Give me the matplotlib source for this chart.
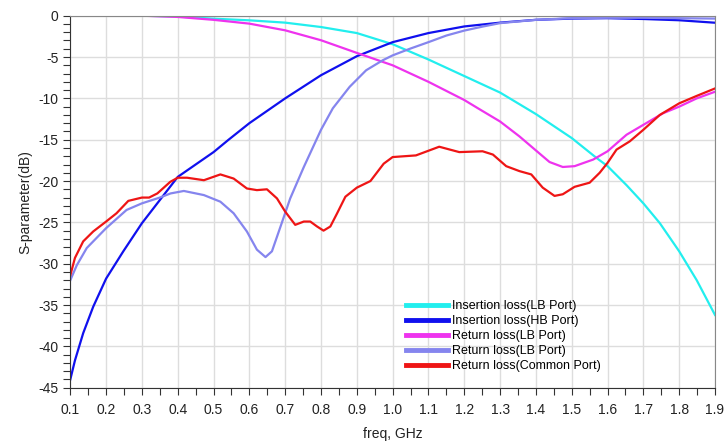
import matplotlib
matplotlib.use("Agg")
import matplotlib.pyplot as plt
from matplotlib.ticker import MultipleLocator
import numpy as np

plt.rcParams['font.family'] = ['Liberation Sans', 'DejaVu Sans']

# Insertion loss (LB Port)
f_il_lb = [0.1, 0.2, 0.3, 0.4, 0.5, 0.6, 0.7, 0.8, 0.9, 1.0, 1.1, 1.2, 1.3, 1.4,
           1.5, 1.569, 1.6, 1.653, 1.7, 1.746, 1.8, 1.849, 1.9]
s_il_lb = [0.0, 0.0, 0.0, -0.1, -0.36, -0.56, -0.84, -1.37, -2.1, -3.45, -5.3, -7.3, -9.3, -11.9,
           -14.8, -17.2, -18.2, -20.5, -22.7, -25.1, -28.5, -32.0, -36.2]

# Insertion loss (HB Port)
f_il_hb = [0.1, 0.113, 0.136, 0.164, 0.2, 0.248, 0.3, 0.35, 0.4, 0.5, 0.542, 0.6, 0.7, 0.8,
           0.9, 1.0, 1.1, 1.2, 1.3, 1.4, 1.5, 1.6, 1.7, 1.8, 1.9]
s_il_hb = [-44.0, -41.7, -38.4, -35.2, -31.8, -28.5, -25.1, -22.3, -19.5, -16.5, -15.0, -13.0, -10.0, -7.2,
           -4.9, -3.2, -2.1, -1.3, -0.84, -0.5, -0.35, -0.3, -0.4, -0.55, -0.85]

# Return loss (LB Port)
f_rl_lb = [0.1, 0.2, 0.3, 0.4, 0.5, 0.6, 0.7, 0.8, 0.9, 1.0, 1.1, 1.2, 1.242, 1.3, 1.354,
           1.4, 1.438, 1.475, 1.508, 1.56, 1.6, 1.653, 1.7, 1.755, 1.8, 1.849, 1.9]
s_rl_lb = [0.0, 0.0, 0.0, -0.15, -0.5, -0.96, -1.77, -2.97, -4.5, -6.0, -8.0, -10.2, -11.3, -12.8, -14.6,
           -16.3, -17.7, -18.3, -18.2, -17.4, -16.4, -14.4, -13.2, -11.8, -11.0, -10.0, -9.2]

# Return loss (LB Port) - second trace
f_rl_lb2 = [0.1, 0.118, 0.146, 0.2, 0.257, 0.3, 0.35, 0.38, 0.417, 0.473, 0.519, 0.556, 0.593,
            0.621, 0.645, 0.663, 0.687, 0.714, 0.752, 0.8, 0.833, 0.88, 0.926, 0.972, 1.0, 1.048, 1.1,
            1.15, 1.2, 1.253, 1.3, 1.4, 1.5, 1.6, 1.7, 1.8, 1.9]
s_rl_lb2 = [-32.0, -30.2, -28.1, -25.7, -23.5, -22.7, -22.0, -21.5, -21.2, -21.7, -22.5, -23.9, -26.1,
            -28.3, -29.2, -28.5, -25.5, -22.1, -18.3, -13.8, -11.2, -8.6, -6.6, -5.4, -4.8, -4.0, -3.2,
            -2.4, -1.8, -1.3, -0.9, -0.5, -0.3, -0.25, -0.25, -0.3, -0.35]

# Return loss (Common Port)
f_rl_com = [0.1, 0.113, 0.136, 0.164, 0.2, 0.229, 0.262, 0.3, 0.32, 0.343, 0.379, 0.4, 0.426,
            0.473, 0.519, 0.556, 0.593, 0.621, 0.649, 0.677, 0.7, 0.728, 0.752, 0.77, 0.789,
            0.807, 0.826, 0.845, 0.868, 0.9, 0.938, 0.975, 1.0, 1.065, 1.13, 1.186, 1.251, 1.28,
            1.317, 1.354, 1.387, 1.419, 1.452, 1.475, 1.508, 1.55, 1.578, 1.6, 1.625, 1.662,
            1.7, 1.746, 1.8, 1.849, 1.9]
s_rl_com = [-31.4, -29.3, -27.3, -26.1, -24.9, -23.9, -22.4, -22.0, -22.0, -21.5, -20.1, -19.6, -19.6,
            -19.9, -19.2, -19.7, -20.9, -21.1, -21.0, -22.1, -23.7, -25.3, -24.9, -24.9, -25.5,
            -26.0, -25.5, -23.9, -21.9, -20.8, -20.0, -17.9, -17.1, -16.9, -15.85, -16.5, -16.4, -16.8,
            -18.2, -18.8, -19.2, -20.8, -21.8, -21.6, -20.7, -20.2, -19.0, -17.8, -16.2, -15.2,
            -13.8, -12.0, -10.6, -9.7, -8.8]

labels = ['Insertion loss(LB Port)', 'Insertion loss(HB Port)', 'Return loss(LB Port)',
          'Return loss(LB Port)', 'Return loss(Common Port)']
colors = ['#22eeee', '#1010ee', '#ee33ee', '#8585ee', '#ee1515']

x_ticks = [0.1, 0.2, 0.3, 0.4, 0.5, 0.6, 0.7, 0.8, 0.9, 1.0, 1.1, 1.2, 1.3, 1.4, 1.5, 1.6, 1.7, 1.8, 1.9]
y_ticks = [0, -5, -10, -15, -20, -25, -30, -35, -40, -45]

fig = plt.figure(figsize=(7.27, 4.41), dpi=100)
ax = fig.add_axes([70.3 / 727, 1 - 387.7 / 441, (715 - 70.3) / 727, (387.7 - 15.7) / 441])

series = [(f_il_lb, s_il_lb), (f_il_hb, s_il_hb), (f_rl_lb, s_rl_lb),
          (f_rl_lb2, s_rl_lb2), (f_rl_com, s_rl_com)]
for (fx, sy), lab, c in zip(series, labels, colors):
    ax.plot(fx, sy, color=c, lw=1.6, label=lab, solid_joinstyle='round')

ax.set_xlim(0.1, 1.9)
ax.set_ylim(-45, 0)
ax.set_xticks(x_ticks)
ax.set_xticklabels([f"{v:.1f}" for v in x_ticks])
ax.set_yticks(y_ticks)
ax.set_yticklabels([str(v) for v in y_ticks])
ax.xaxis.set_minor_locator(MultipleLocator(0.05))
ax.yaxis.set_minor_locator(MultipleLocator(1))
ax.tick_params(which='both', direction='out', length=5, width=0.8, color='#333333',
               labelsize=10, labelcolor='#222222')
ax.tick_params(axis='x', pad=6)
ax.grid(True, which='major', color='#dddddd', lw=1.0)
ax.set_axisbelow(True)
for s in ['top', 'right']:
    ax.spines[s].set_color('#888888')
for s in ['left', 'bottom']:
    ax.spines[s].set_color('#333333')

ax.set_xlabel('freq, GHz', fontsize=10, color='#222222', labelpad=7)
ax.set_ylabel('S-parameter(dB)', fontsize=10, color='#222222', labelpad=4)

leg = fig.legend(loc='upper left', bbox_to_anchor=(406 / 727, 1 - 300 / 441),
                 frameon=False, fontsize=9, handlelength=3.4, handletextpad=0.28,
                 labelspacing=0.25, borderpad=0, borderaxespad=0)
for lh in leg.get_lines():
    lh.set_linewidth(3.5)

fig.savefig('out.png', dpi=100)
